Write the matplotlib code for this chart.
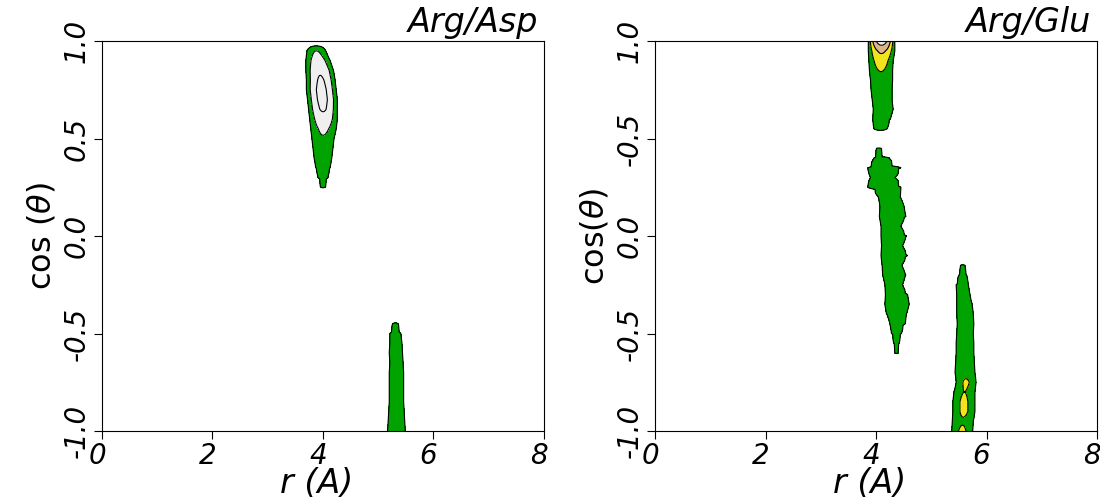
import numpy as np
import matplotlib
matplotlib.use("Agg")
import matplotlib.pyplot as plt
from matplotlib.transforms import ScaledTranslation

# Each band: rows of cos(theta), with the ridge centre in r, the half width of the
# outer (lowest) contour and the peak level on that row.

# Arg/Asp, upper band
asp1_cos = [1.00, 0.95, 0.90, 0.85, 0.80, 0.75, 0.70, 0.65, 0.60, 0.55, 0.50,
            0.45, 0.40, 0.35, 0.30, 0.25, 0.20]
asp1_r = [3.88, 3.88, 3.91, 3.94, 3.96, 3.97, 3.99, 4.00, 4.01, 4.01, 4.00,
          4.00, 4.00, 4.00, 4.00, 4.00, 4.00]
asp1_w = [0.10, 0.17, 0.22, 0.25, 0.26, 0.27, 0.27, 0.26, 0.25, 0.23, 0.20,
          0.18, 0.16, 0.13, 0.09, 0.04, 0.03]
asp1_p = [0.0, 2.0, 2.5, 2.9, 3.1, 3.25, 3.25, 3.1, 2.7, 2.2, 1.9,
          1.7, 1.6, 1.5, 1.3, 1.05, 0.0]

# Arg/Asp, lower band
asp2_cos = [-0.40, -0.45, -0.50, -0.55, -0.60, -0.65, -0.70, -0.75, -0.80,
            -0.85, -0.90, -0.95, -1.00]
asp2_r = [5.30, 5.31, 5.31, 5.32, 5.32, 5.33, 5.33, 5.33, 5.33, 5.33, 5.33,
          5.33, 5.33]
asp2_w = [0.05, 0.05, 0.10, 0.11, 0.12, 0.12, 0.13, 0.13, 0.13, 0.13, 0.14,
          0.15, 0.16]
asp2_p = [0.0, 1.1, 1.3, 1.4, 1.5, 1.5, 1.6, 1.6, 1.6, 1.6, 1.6, 1.4, 1.5]

# Arg/Glu, top band
glu1_cos = [1.00, 0.95, 0.90, 0.85, 0.80, 0.75, 0.70, 0.65, 0.60, 0.55, 0.50]
glu1_r = [4.10, 4.10, 4.09, 4.09, 4.10, 4.10, 4.11, 4.13, 4.10, 4.08, 4.10]
glu1_w = [0.24, 0.24, 0.22, 0.21, 0.20, 0.19, 0.18, 0.18, 0.16, 0.12, 0.10]
glu1_p = [4.6, 3.2, 2.5, 2.05, 1.7, 1.6, 1.5, 1.5, 1.4, 1.2, 0.0]

# Arg/Glu, broken middle band
glu2_cos = [0.45, 0.40, 0.35, 0.30, 0.25, 0.20, 0.15, 0.10, 0.05, 0.00, -0.05,
            -0.10, -0.15, -0.20, -0.25, -0.30, -0.35, -0.40, -0.45, -0.50,
            -0.55, -0.60, -0.65]
glu2_r = [4.05, 4.10, 4.15, 4.12, 4.15, 4.24, 4.29, 4.30, 4.27, 4.32, 4.29,
          4.33, 4.29, 4.33, 4.32, 4.37, 4.38, 4.37, 4.39, 4.37, 4.37, 4.37, 4.37]
glu2_w = [0.04, 0.14, 0.30, 0.22, 0.30, 0.20, 0.22, 0.24, 0.18, 0.23, 0.19,
          0.24, 0.18, 0.21, 0.16, 0.20, 0.22, 0.18, 0.14, 0.09, 0.05, 0.03, 0.03]
glu2_p = [1.03, 1.15, 1.3, 1.1, 1.4, 1.3, 1.5, 1.4, 1.3, 1.5, 1.3,
          1.5, 1.3, 1.4, 1.3, 1.4, 1.5, 1.3, 1.3, 1.2, 1.1, 1.05, 0.0]

# Arg/Glu, right band
glu3_cos = [-0.10, -0.15, -0.20, -0.25, -0.30, -0.35, -0.40, -0.45, -0.50,
            -0.55, -0.60, -0.65, -0.70, -0.75, -0.80, -0.85, -0.90, -0.95, -1.00]
glu3_r = [5.57, 5.57, 5.57, 5.56, 5.58, 5.60, 5.61, 5.62, 5.61, 5.61, 5.61,
          5.61, 5.61, 5.63, 5.60, 5.59, 5.59, 5.57, 5.56]
glu3_w = [0.05, 0.04, 0.07, 0.11, 0.12, 0.14, 0.15, 0.15, 0.15, 0.16, 0.16,
          0.17, 0.18, 0.18, 0.19, 0.20, 0.20, 0.19, 0.19]
glu3_p = [0.0, 1.05, 1.1, 1.3, 1.4, 1.4, 1.5, 1.5, 1.6, 1.6, 1.6,
          1.7, 1.8, 2.12, 2.0, 2.15, 2.15, 1.9, 2.15]

asp_levels = [1, 2, 3, 10]
asp_colors = ['#00a300', '#efefef', '#efefef']
glu_levels = [1, 2, 3, 4, 10]
glu_colors = ['#00a300', '#f2e41c', '#e0b487', '#f0f0f0']

yticks = [-1.0, -0.5, 0.0, 0.5, 1.0]
asp_ylabels = ['-1.0', '-0.5', '0.0', '0.5', '1.0']
glu_ylabels = ['-1.0', '-0.5', '0.0', '-0.5', '1.0']

r_grid = np.linspace(0, 8, 801)
cos_grid = np.round(np.arange(-1.0, 1.0001, 0.05), 2)


def campo(bandas):
    Z = np.zeros((len(cos_grid), len(r_grid)))
    for cs, rc, w, p in bandas:
        for c, r0, hw, pk in zip(cs, rc, w, p):
            i = int(np.argmin(np.abs(cos_grid - c)))
            if pk <= 0:
                continue
            u = (r_grid - r0) / hw
            fila = 1 + (pk - 1) * (1 - u ** 2)
            fila[np.abs(u) > 1.3] = 0
            Z[i] = np.maximum(Z[i], np.clip(fila, 0, None))
    return Z


Z_asp = campo([(asp1_cos, asp1_r, asp1_w, asp1_p),
               (asp2_cos, asp2_r, asp2_w, asp2_p)])
Z_glu = campo([(glu1_cos, glu1_r, glu1_w, glu1_p),
               (glu2_cos, glu2_r, glu2_w, glu2_p),
               (glu3_cos, glu3_r, glu3_w, glu3_p)])

fig = plt.figure(figsize=(11, 5.03), dpi=100)
ax1 = fig.add_axes([0.0927, 0.1431, 0.4018, 0.7753])
ax2 = fig.add_axes([0.5955, 0.1431, 0.4018, 0.7753])

paneles = [(ax1, Z_asp, asp_levels, asp_colors, 'Arg/Asp', asp_ylabels, r'cos $(\theta)$'),
           (ax2, Z_glu, glu_levels, glu_colors, 'Arg/Glu', glu_ylabels, r'cos$(\theta)$')]

corrido = ScaledTranslation(-5 / 100, 0, fig.dpi_scale_trans)

for ax, Z, lev, col, titulo, ylab, ytxt in paneles:
    ax.contourf(r_grid, cos_grid, Z, levels=lev, colors=col)
    ax.contour(r_grid, cos_grid, Z, levels=lev[:-1], colors='black', linewidths=0.8)
    ax.set_xlim(0, 8)
    ax.set_ylim(-1, 1)
    ax.set_xticks([0, 2, 4, 6, 8])
    ax.set_xticklabels(['0', '2', '4', '6', '8'], fontsize=20, style='italic')
    ax.set_yticks(yticks)
    ax.set_yticklabels(ylab, fontsize=20, style='italic', rotation=90, va='center')
    ax.tick_params(direction='out', length=6, width=0.8, pad=2)
    # etiquetas x un poco a la izquierda, como en el original
    for t in ax.get_xticklabels():
        t.set_transform(t.get_transform() + corrido)
    ax.set_xlabel('r (A)', fontsize=24, style='italic', labelpad=-2)
    ax.xaxis.label.set_x(0.485)
    ax.set_ylabel(ytxt, fontsize=23, labelpad=4)
    ax.text(1.0, 1.0, titulo, fontsize=24, style='italic', ha='right', va='bottom',
            transform=ax.transAxes + ScaledTranslation(-6 / 100, 2 / 100, fig.dpi_scale_trans))
    for s in ax.spines.values():
        s.set_linewidth(0.8)

fig.savefig('out.png', dpi=100)
